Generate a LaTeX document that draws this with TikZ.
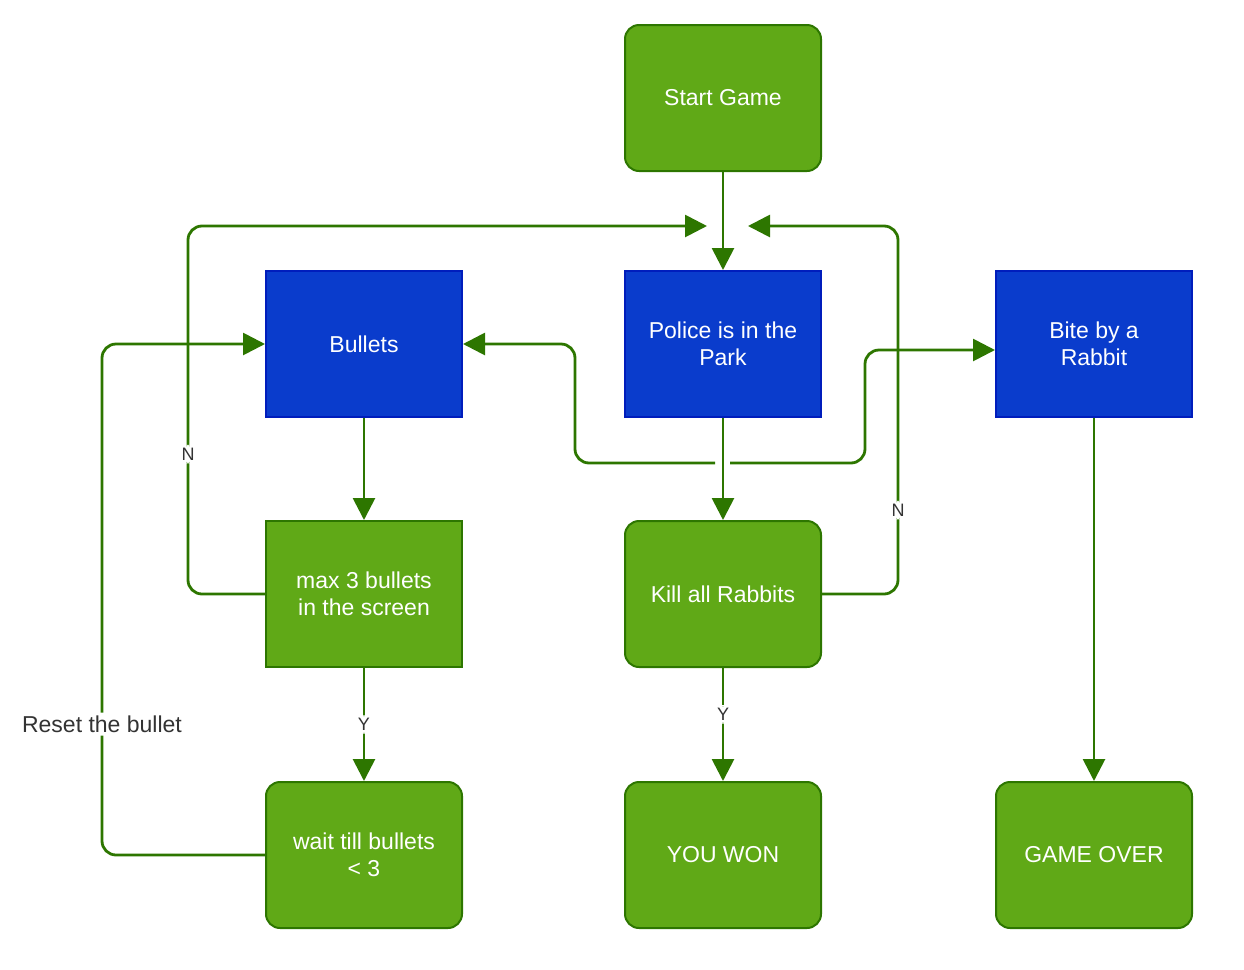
\documentclass[tikz,border=0pt]{standalone}
\usepackage{fontspec}
\setmainfont{Liberation Sans}
\usetikzlibrary{arrows.meta}
\definecolor{boxgreen}{HTML}{60A917}
\definecolor{edgegreen}{HTML}{2D7600}
\definecolor{boxblue}{HTML}{0A3CCC}
\definecolor{edgeblue}{HTML}{001DBC}
\tikzset{greenbox/.style={draw=edgegreen,fill=boxgreen,line width=1pt,text=white,
    minimum width=98pt,minimum height=73pt,align=center,inner sep=2pt,
    font=\fontsize{11.5}{13.5}\selectfont},
  roundbox/.style={greenbox,rounded corners=7pt},
  bluebox/.style={greenbox,draw=edgeblue,fill=boxblue},
  flow/.style={draw=edgegreen,line width=1.4pt,rounded corners=7pt,
    -{Triangle[length=11pt,width=11pt]}},
  lbl/.style={fill=white,inner sep=1.5pt,text=black!80,font=\fontsize{9}{11}\selectfont}}

\begin{document}
\begin{tikzpicture}[x=0.5pt,y=-0.5pt]
    \useasboundingbox (0,0) rectangle (1244,970);

    \node[roundbox] at (723,98)    (start)   {Start Game};
    \node[bluebox]  at (364,344)   (bullets) {Bullets};
    \node[bluebox]  at (723,344)   (police)  {Police is in the\\Park};
    \node[bluebox]  at (1094,344)  (bite)    {Bite by a\\Rabbit};
    \node[greenbox] at (364,594)   (max3)    {max 3 bullets\\in the screen};
    \node[roundbox] at (723,594)   (kill)    {Kill all Rabbits};
    \node[roundbox] at (364,855)   (wait)    {wait till bullets\\< 3};
    \node[roundbox] at (723,855)   (won)     {YOU WON};
    \node[roundbox] at (1094,855)  (over)    {GAME OVER};

    \coordinate (pinl) at (707,226);
    \coordinate (pinr) at (748,226);
    \coordinate (pl) at (715,463);
    \coordinate (pr) at (730,463);

    \draw[flow] (start) -- (police);
    \draw[flow] (police) -- (kill);
    \draw[flow] (pl) -- ++(-140,0) |- (bullets.east);
    \draw[flow] (pr) -- ++(135,0) |- ([yshift=-3pt]bite.west);
    \draw[flow] (bullets) -- (max3);
    \draw[flow] (max3.west) -- ++(-77,0) |- node[lbl,pos=0.19] {N} (pinl);
    \draw[flow] (kill.east) -- ++(76,0) |- node[lbl,pos=0.114] {N} (pinr);
    \draw[flow] (max3) -- node[lbl] {Y} (wait);
    \draw[flow] (kill) -- node[lbl,pos=0.41] {Y} (won);
    \draw[flow] (bite) -- (over);
    \draw[flow] (wait.west) -- ++(-163,0) |- node[lbl,pos=0.128,font=\fontsize{11.5}{13.5}\selectfont] {Reset the bullet} (bullets.west);
\end{tikzpicture}
\end{document}
